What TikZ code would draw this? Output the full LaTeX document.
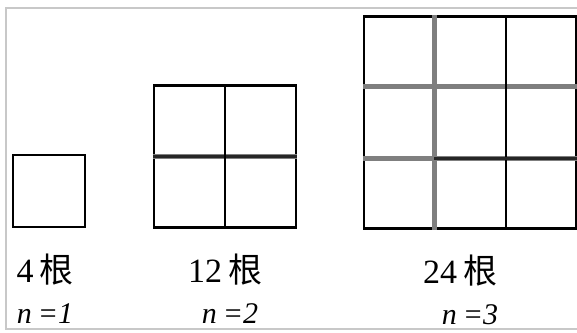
\documentclass[tikz,border=0pt]{standalone}
\usepackage{fontspec}
\setmainfont{Liberation Serif}
\newfontfamily\cjk{Noto Sans CJK SC}
\usetikzlibrary{positioning,calc}
\definecolor{gridgrey}{HTML}{7F7F7F}
\definecolor{framegrey}{HTML}{C8C8C8}
\tikzset{
  sqbox/.style    = {draw=black, line width=2.4pt, minimum size=#1,
                     inner sep=0pt},
  inner/.style    = {draw=black, line width=2pt},
  darkthick/.style= {draw=black!85, line width=3.4pt},
  thickgrey/.style= {draw=gridgrey, line width=4.6pt},
  cntlbl/.style   = {font=\fontsize{34}{36}\selectfont, inner sep=1pt,
                     anchor=base},
  nlbl/.style     = {font=\fontsize{30}{32}\selectfont\itshape, inner sep=1pt,
                     anchor=base},
}

\begin{document}
\begin{tikzpicture}[x=1pt, y=-1pt]
  \useasboundingbox (0,0) rectangle (577,332);

  % ---------- frame ------------------------------------------------------
  \draw[framegrey, line width=2pt] (577,8) -- (6,8) -- (6,329) -- (577,329);

  % ---------- squares ----------------------------------------------------
  \node[sqbox=72pt]  (sq1) at (49,191) {};
  \node[sqbox=142pt] (sq2) at (225,156.5) {};
  \node[sqbox=212pt] (sq3) at (470,122.5) {};

  % n = 2
  \draw[thickgrey] (sq2.west) -- (sq2.east);
  \draw[darkthick] (sq2.west) -- (sq2.east);
  \draw[inner] (sq2.north) -- (sq2.south);

  % n = 3
  \coordinate (c1n) at ($(sq3.north west)!1/3!(sq3.north east)$);
  \coordinate (c1s) at ($(sq3.south west)!1/3!(sq3.south east)$);
  \coordinate (c2n) at ($(sq3.north west)!2/3!(sq3.north east)$);
  \coordinate (c2s) at ($(sq3.south west)!2/3!(sq3.south east)$);
  \coordinate (r1w) at ($(sq3.north west)!1/3!(sq3.south west)$);
  \coordinate (r1e) at ($(sq3.north east)!1/3!(sq3.south east)$);
  \coordinate (r2w) at ($(sq3.north west)!2/3!(sq3.south west)$);
  \coordinate (r2e) at ($(sq3.north east)!2/3!(sq3.south east)$);
  \draw[thickgrey] (c1n) -- (c1s);
  \draw[thickgrey] (r1w) -- (r1e);
  \draw[thickgrey] (r2w) -- (r2e);
  \draw[inner] (c2n) -- (c2s);
  \draw[darkthick] (r2w -| c1n) -- (r2e);

  % ---------- labels -----------------------------------------------------
  \node[cntlbl, xshift=-4pt, yshift=-54pt] (cnt1) at (sq1.south)
    {4\hspace{6pt}{\cjk 根}};
  \node[cntlbl, yshift=-54pt] (cnt2) at (sq2.south)
    {12\hspace{6pt}{\cjk 根}};
  \node[cntlbl, xshift=-10pt, yshift=-54pt] (cnt3) at (sq3.south)
    {24\hspace{6pt}{\cjk 根}};

  \node[nlbl, xshift=0pt, yshift=-41pt] (n1) at (cnt1.base) {n\hspace{6pt}=1};
  \node[nlbl, xshift=5pt, yshift=-41pt] (n2) at (cnt2.base) {n\hspace{6pt}=2};
  \node[nlbl, xshift=10pt, yshift=-41pt] (n3) at (cnt3.base) {n\hspace{6pt}=3};
\end{tikzpicture}
\end{document}
